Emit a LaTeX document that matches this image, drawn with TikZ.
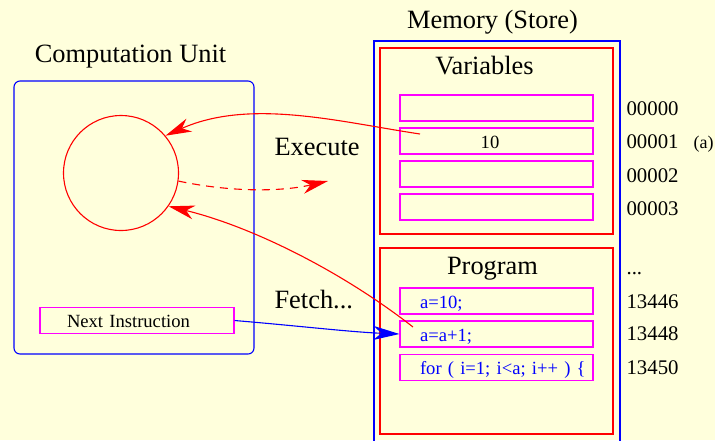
\documentclass[tikz,border=0pt]{standalone}
\usepackage{fontspec}
\setmainfont{Liberation Serif}
\usetikzlibrary{arrows.meta,positioning}

\definecolor{paper}{RGB}{255,255,220}
\definecolor{slotpink}{RGB}{255,0,255}
\definecolor{wire}{RGB}{255,0,0}
\definecolor{bus}{RGB}{0,0,255}

\tikzset{
    title/.style={anchor=base, font=\fontsize{13.2pt}{15pt}\selectfont, inner sep=0pt},
    addr/.style={anchor=base west, font=\fontsize{10.4pt}{12pt}\selectfont, inner sep=0pt},
    slot/.style={draw=slotpink, minimum width=96.5pt, minimum height=13pt,
        inner ysep=0pt, inner xsep=10pt, text width=76.5pt, text height=7pt, text depth=0pt,
        font=\fontsize{9.3pt}{11pt}\selectfont},
    code/.style={slot, align=left, text=bus},
    flow/.style={wire, -{Stealth[length=13pt, width=7pt, inset=4pt]}}
}

\begin{document}
\begin{tikzpicture}[x=0.5pt, y=-0.5pt, line width=0.55pt]
    % Background
    \useasboundingbox (0,0) rectangle (715,440);
    \fill[paper] (0,0) rectangle (715,440);
    \clip (0,0) rectangle (715,440);

    % Computation unit
    \node[title] (cutitle) at (130.5,62) {Computation Unit};
    \node[draw=bus, rounded corners=3pt, minimum width=120pt, minimum height=136.5pt, inner sep=0pt] (cu) at (134,217.5) {};
    \node[draw=wire, circle, minimum size=57.5pt, inner sep=0pt] (proc) at (121,173) {};
    \node[slot, align=left, inner xsep=13.5pt, text width=70pt, minimum width=97pt] (ni) at (137,320.5) {Next Instruction};

    % Memory (store)
    \node[title] (memtitle) at (492.5,28) {Memory (Store)};
    \draw[bus] (374,450) -- (374,41) -- (620,41) -- (620,450);

    % Variables
    \node[draw=wire, minimum width=116.5pt, minimum height=93pt, inner sep=0pt] (vars) at (496.5,141) {};
    \node[title] at (484.5,74) {Variables};
    \node[slot, align=center] (v0) at (496.5,108) {};
    \node[slot, align=center] (v1) at (496.5,141) {\hspace*{-6.5pt}10};
    \node[slot, align=center] (v2) at (496.5,174) {};
    \node[slot, align=center] (v3) at (496.5,207) {};
    \node[addr] at (626,115) {00000};
    \node[addr] at (626,148) {00001};
    \node[addr] at (626,182) {00002};
    \node[addr] at (626,215) {00003};
    \node[anchor=base west, inner sep=0pt, font=\fontsize{9pt}{11pt}\selectfont] at (693,148) {(a)};

    % Program
    \node[draw=wire, minimum width=116.5pt, minimum height=93pt, inner sep=0pt] (prog) at (496.5,341) {};
    \node[title] at (492.5,274) {Program};
    \node[code] (p1) at (496.5,301) {a=10;};
    \node[code] (p2) at (496.5,334) {a=a+1;};
    \node[code] (p3) at (496.5,367.5) {\rlap{for ( i=1; i<a; i++ ) \{}};
    \node[addr] at (626,274) {...};
    \node[addr] at (626,308) {13446};
    \node[addr] at (626,340) {13448};
    \node[addr] at (626,374) {13450};

    % Labels between the units
    \node[title, anchor=base west] (exec) at (274,155) {Execute};
    \node[title, anchor=base west] (fetch) at (274,308) {Fetch...};

    % Arrow ends
    \coordinate (val) at (420,134);
    \coordinate (instr) at (413,327);
    \coordinate (res) at (328,181);

    % Data flow
    \draw[flow] (val) .. controls (340,122) and (250,98) .. (proc.40);
    \draw[flow, dash pattern=on 4pt off 3pt] (proc.-8) .. controls (230,192) and (280,192) .. (res);
    \draw[flow] (instr) .. controls (340,270) and (250,226) .. (proc.-35);
    \draw[bus, -{Stealth[length=13pt, width=7pt, inset=4pt]}] (ni.east) .. controls (300,326) and (350,332) .. (p2.west);
\end{tikzpicture}
\end{document}
